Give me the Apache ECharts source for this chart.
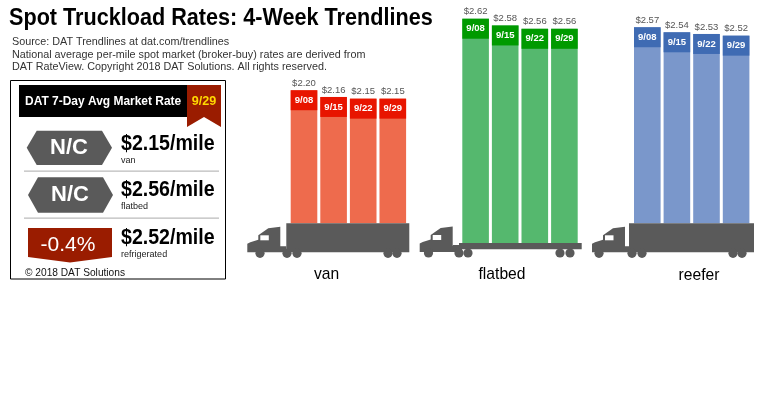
<!DOCTYPE html>
<html><head><meta charset="utf-8">
<style>html,body{margin:0;padding:0;background:#fff}#c{width:770px;height:400px}</style>
<script src="https://cdn.jsdelivr.net/npm/echarts@6/dist/echarts.min.js"></script>
</head><body><div id="c"></div>
<script>
const weeks = ['9/08','9/15','9/22','9/29'];
const vanRates = [2.20,2.16,2.15,2.15];
const flatbedRates = [2.62,2.58,2.56,2.56];
const reeferRates = [2.57,2.54,2.53,2.52];
const groupNames = ['van','flatbed','reefer'];
const panelChanges = ['N/C','N/C','-0.4%'];
const panelRates = ['$2.15/mile','$2.56/mile','$2.52/mile'];
const panelTypes = ['van','flatbed','refrigerated'];
const titleText = 'Spot Truckload Rates: 4-Week Trendlines';
const sourceLines = ['Source: DAT Trendlines at dat.com/trendlines',
 'National average per-mile spot market (broker-buy) rates are derived from',
 'DAT RateView. Copyright 2018 DAT Solutions. All rights reserved.'];

const FONT = '"Liberation Sans", Arial, sans-serif';
const SCALE = 168, CAP = 20 / SCALE, YMAX = 2.7, BW = 26.6, GW = 118.4, GREY = '#5a5a5a';
const groups = [
 {rates:vanRates, left:289.2, bottom:223.3, min:1.408, light:'#ee6b4d', dark:'#e81500'},
 {rates:flatbedRates, left:460.8, bottom:243, min:1.285, light:'#55b86e', dark:'#009a00'},
 {rates:reeferRates, left:632.5, bottom:223.3, min:1.403, light:'#7a97cb', dark:'#3f6bb3'}
];
const grid=[],xAxis=[],yAxis=[],series=[];
groups.forEach((g,i)=>{
  const h=(YMAX-g.min)*SCALE;
  grid.push({left:g.left,top:g.bottom-h,width:GW,height:h});
  xAxis.push({type:'category',gridIndex:i,data:weeks,show:false});
  yAxis.push({type:'value',gridIndex:i,min:g.min,max:YMAX,show:false});
  series.push({type:'bar',name:groupNames[i]+' rate',xAxisIndex:i,yAxisIndex:i,barWidth:BW,barGap:'-100%',silent:true,
    data:g.rates,itemStyle:{color:g.light},
    label:{show:true,position:'top',distance:2,color:'#555',fontFamily:FONT,fontSize:9.5,formatter:p=>'$'+p.value.toFixed(2)}});
  series.push({type:'bar',xAxisIndex:i,yAxisIndex:i,barWidth:BW,stack:'c'+i,silent:true,
    data:g.rates.map(v=>v-CAP),itemStyle:{color:'transparent'}});
  series.push({type:'bar',xAxisIndex:i,yAxisIndex:i,barWidth:BW,stack:'c'+i,silent:true,
    data:g.rates.map(()=>CAP),itemStyle:{color:g.dark},
    label:{show:true,position:'inside',color:'#fff',fontFamily:FONT,fontWeight:'bold',fontSize:9.5,formatter:p=>weeks[p.dataIndex]}});
});

const text=(x,y,t,o={},sx=1)=>({type:'text',z:20,x,y,scaleX:sx,style:Object.assign({text:t,fontFamily:FONT,fill:'#000',fontSize:11,textAlign:'left',textVerticalAlign:'middle'},o)});
const poly=(pts,fill,z=10)=>({type:'polygon',z,shape:{points:pts},style:{fill}});
const rect=(x,y,w,h,fill,z=10)=>({type:'rect',z,shape:{x,y,width:w,height:h},style:{fill}});
const circ=(cx,cy,r)=>({type:'circle',z:12,shape:{cx,cy,r},style:{fill:GREY}});

function truck(x0,tl,tr,top,low,flat,wheels){
  const out=[], b=flat?252:low;
  out.push(poly([[x0,b],[x0,b-8.5],[x0+3,b-10],[x0+11,b-12.5],[x0+11,b-17],[x0+21,b-24],[x0+33,b-25.5],[x0+33,b-6],[x0+39,b-6],[x0+39,b]],GREY,11));
  out.push(rect(x0+13,b-17,8.5,5,'#fff',13));
  if(flat){ out.push(rect(tl,243,tr-tl,6.3,GREY,11)); out.push(rect(x0+33,245,tl-x0-30,6,GREY,11)); }
  else out.push(rect(tl,top,tr-tl,low-top,GREY,11));
  wheels.forEach(w=>out.push(circ(w,b+1,4.6)));
  return out;
}

const g=[];
g.push(text(9,18.5,titleText,{fontSize:23.5,fontWeight:'bold'},0.92));
sourceLines.forEach((s,i)=>g.push(text(12,[42,54.5,67][i],s,{fontSize:11.2,fill:'#333'},0.965)));
// market panel
g.push({type:'rect',z:5,shape:{x:10.5,y:80.5,width:215,height:198.5},style:{fill:'#fff',stroke:'#000',lineWidth:1}});
g.push(rect(19,85,168,32,'#000'));
g.push(poly([[187,85],[221,85],[221,127],[204,117],[187,127]],'#9a1c00',11));
g.push(text(25,102,'DAT 7-Day Avg Market Rate',{fill:'#fff',fontSize:12.6,fontWeight:'bold'},0.95));
g.push(text(204,102,weeks[3],{fill:'#ffd800',fontSize:12.6,fontWeight:'bold',textAlign:'center'}));
g.push(rect(24,170.5,195,1.3,'#bbb'),rect(24,217.5,195,1.3,'#bbb'));
const hex=(l,r,t,b)=>poly([[l,(t+b)/2],[l+10,t],[r-10,t],[r,(t+b)/2],[r-10,b],[l+10,b]],GREY);
g.push(hex(26.7,112,130.7,165),hex(28,113,177.3,212.7));
g.push(poly([[28,228],[112,228],[112,257],[70,262.5],[28,257]],'#9a1c00'));
[[69,148],[70,195],[68,245]].forEach((p,i)=>g.push(text(p[0],p[1],panelChanges[i],{fill:'#fff',fontSize:i==2?21:22,fontWeight:i==2?'normal':'bold',textAlign:'center'})));
[144,190,238].forEach((y,i)=>{
  g.push(text(121,y,panelRates[i],{fontSize:22.5,fontWeight:'bold'},0.87));
  g.push(text(121,y+16.5,panelTypes[i],{fontSize:9.5,fill:'#222'},0.95));
});
g.push(text(25,273,'© 2018 DAT Solutions',{fontSize:10.6,fill:'#111'},0.96));
// trucks and captions
g.push(...truck(247.3,286.3,409.3,223.3,252.3,false,[260,287,297,388,397]));
g.push(...truck(419.7,459,581.7,243,249.3,true,[428.5,459,468,560,570]));
g.push(...truck(592,629,754,223.3,252.3,false,[599,632,642,733,742]));
[[326.5,274],[502,274],[699,275]].forEach((p,i)=>g.push(text(p[0],p[1],groupNames[i],{fontSize:17,textAlign:'center'},0.92)));

const chart=echarts.init(document.getElementById('c'),null,{renderer:'canvas'});
chart.setOption({
  animation:false,backgroundColor:'#fff',
  grid,xAxis,yAxis,series,graphic:{elements:g}
});
</script></body></html>
